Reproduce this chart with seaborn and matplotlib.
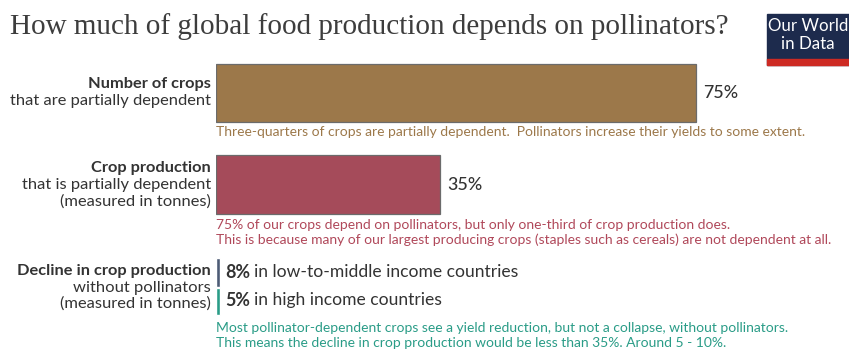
import matplotlib
matplotlib.use("Agg")
import matplotlib.pyplot as plt
import seaborn as sns
import pandas as pd
from matplotlib.patches import Rectangle

# ---- data ----
main_categories = ["Number of crops", "Crop production"]
main_values = [75, 35]
main_colors = ["#9C784A", "#A54B5A"]
decline_groups = ["in low-to-middle income countries", "in high income countries"]
decline_values = [8, 5]
decline_colors = ["#4D5B75", "#2A9C87"]
sub_labels = [["that are partially dependent"],
              ["that is partially dependent", "(measured in tonnes)"],
              ["without pollinators", "(measured in tonnes)"]]
bold_labels = ["Number of crops", "Crop production", "Decline in crop production"]
notes = [["Three-quarters of crops are partially dependent.  Pollinators increase their yields to some extent."],
         ["75% of our crops depend on pollinators, but only one-third of crop production does.",
          "This is because many of our largest producing crops (staples such as cereals) are not dependent at all."],
         ["Most pollinator-dependent crops see a yield reduction, but not a collapse, without pollinators.",
          "This means the decline in crop production would be less than 35%. Around 5 - 10%."]]
note_colors = ["#9C784A", "#B0485A", "#2A9C87"]
title = "How much of global food production depends on pollinators?"

W, H = 849, 349
sns.set_theme(style="white")
plt.rcParams['font.family'] = ['Lato', 'DejaVu Sans']
fig = plt.figure(figsize=(W / 100, H / 100), dpi=100)
renderer = fig.canvas.get_renderer()

def fit_size(s, target_px, **kw):
    t = fig.text(0, 0, s, fontsize=10, **kw)
    w = t.get_window_extent(renderer=renderer).width
    t.remove()
    return 10 * target_px / w

# axes: x origin at pixel 216, 6.4 px per percent; y category 0 at px 93, 1 at 184.5
x0, ppu = 216, 6.4
ax = fig.add_axes([x0 / W, 0, 1 - x0 / W, 1])
df = pd.DataFrame({"cat": main_categories, "val": main_values})
sns.barplot(data=df, y="cat", x="val", hue="cat", palette=main_colors, orient="h",
            width=0.635, saturation=1, edgecolor="#6b6b6b", linewidth=0.9,
            legend=False, ax=ax)
ypx = 91.5
def py(p):
    return (p - 93) / ypx
ax.set_xlim(0, (W - x0) / ppu)
ax.set_ylim(py(H), py(0))

# thin decline markers
dec_centers = [272.5, 301.5]
dec_heights = [29, 27]
for c, h, col in zip(dec_centers, dec_heights, decline_colors):
    ax.barh(py(c), 0.6, height=h / ypx, color=col, left=0)
ax.axis("off")

def T(x, y, s, **kw):
    return fig.text(x / W, 1 - y / H, s, va="center", **kw)

serif = ["Liberation Serif", "DejaVu Serif"]
fs_title = fit_size(title, 718, family=serif)
fs_bold = fit_size("Number of crops", 123, fontweight="bold")
fs_reg = fit_size("that are partially dependent", 201)
fs_note = fit_size(notes[0][0], 590)
fs_val = fit_size("75%", 35, fontweight="medium")
fs_logo = fit_size("Our World", 80)

# title
T(10, 27, title, fontsize=fs_title, family=serif, color="#3d3d3d")

# logo
fig.patches.append(Rectangle((767 / W, 1 - 65 / H), 82 / W, 51 / H, transform=fig.transFigure,
                             color="#1d2b4d", zorder=5))
fig.patches.append(Rectangle((767 / W, 1 - 65 / H), 82 / W, 6 / H, transform=fig.transFigure,
                             color="#cd2a23", zorder=6))
T(808, 26, "Our World", ha="center", color="white", fontsize=fs_logo, zorder=7)
T(808, 44, "in Data", ha="center", color="white", fontsize=fs_logo, zorder=7)

# left labels
label_y = [[84, 101], [168, 185, 202], [271, 288, 304]]
for b, subs, ys in zip(bold_labels, sub_labels, label_y):
    T(211, ys[0], b, ha="right", fontsize=fs_bold, fontweight="bold", color="#333333")
    for s, y in zip(subs, ys[1:]):
        T(211, y, s, ha="right", fontsize=fs_reg, color="#333333")

# value labels for main bars
for v, yc in zip(main_values, [93, 184.5]):
    T(x0 + v * ppu + 7, yc, f"{v}%", ha="left", fontsize=fs_val, fontweight="medium",
      color="#333333")

# decline labels
fs_dec_b = fit_size("8%", 25, fontweight="bold")
fs_dec = fit_size(decline_groups[0], 264)
for v, g, y in zip(decline_values, decline_groups, [272, 300]):
    t1 = T(225, y, f"{v}%", ha="left", fontsize=fs_dec_b, fontweight="bold", color="#333333")
    bb = t1.get_window_extent(renderer=renderer)
    T(bb.x1 + 4, y, g, ha="left", fontsize=fs_dec, color="#333333")

# notes
note_y = [[132], [225, 240], [328, 343]]
for lines, ys, col in zip(notes, note_y, note_colors):
    for s, y in zip(lines, ys):
        T(216, y, s, ha="left", fontsize=fs_note, color=col)

fig.savefig("out.png", dpi=100)
